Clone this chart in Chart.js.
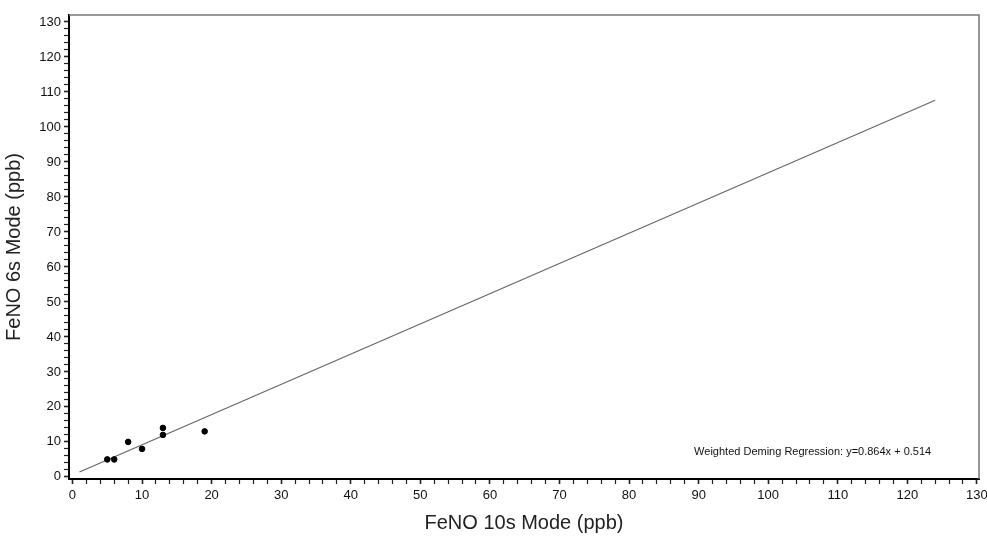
<!DOCTYPE html>
<html>
<head>
<meta charset="utf-8">
<script src="https://cdn.jsdelivr.net/npm/chart.js@4/dist/chart.umd.min.js"></script>
<style>
  html, body { margin: 0; padding: 0; background: #fff; }
  #wrap { width: 987px; height: 539px; }
</style>
</head>
<body>
<div id="wrap"><canvas id="chart"></canvas></div>
<script>
// measured points (10s mode vs 6s mode)
const mode10s = [5, 6, 8, 10, 13, 13, 19];
const mode6s = [5, 5, 10, 8, 14, 12, 13];

// regression line ends
const fitX = [1, 124];
const fitY = [1.38, 107.65];

const regressionLabel = "Weighted Deming Regression: y=0.864x + 0.514";
const xTitle = "FeNO 10s Mode (ppb)";
const yTitle = "FeNO 6s Mode (ppb)";

// major tick values shown on both axes
const tickValues = [0, 10, 20, 30, 40, 50, 60, 70, 80, 90, 100, 110, 120, 130];

function everyTwo(scale) {
  let ticks = [];
  for (let v = 0; v <= 130; v += 2) ticks.push({ value: v });
  scale.ticks = ticks;
}

const boxPlugin = {
  id: "box",
  afterDraw(chart) {
    const ctx = chart.ctx;
    const a = chart.chartArea;
    ctx.save();
    ctx.strokeStyle = "#777";
    ctx.lineWidth = 1.5;
    ctx.beginPath();
    ctx.moveTo(a.left, a.top);
    ctx.lineTo(a.right, a.top);
    ctx.lineTo(a.right, a.bottom);
    ctx.stroke();
    // regression text
    const x = chart.scales.x.getPixelForValue(124);
    const y = chart.scales.y.getPixelForValue(7);
    ctx.fillStyle = "#111";
    ctx.font = "11px Arial, 'Liberation Sans', sans-serif";
    ctx.textAlign = "right";
    ctx.textBaseline = "middle";
    ctx.fillText(regressionLabel, x - 4, y);
    ctx.restore();
  }
};

new Chart(document.getElementById("chart"), {
  type: "scatter",
  data: {
    datasets: [
      {
        label: "data",
        data: mode10s.map((v, i) => ({ x: v, y: mode6s[i] })),
        backgroundColor: "#000",
        borderColor: "#000",
        pointRadius: 2.8,
        order: 1
      },
      {
        label: "fit",
        type: "line",
        data: fitX.map((v, i) => ({ x: v, y: fitY[i] })),
        borderColor: "#666",
        borderWidth: 1.2,
        pointRadius: 0,
        fill: false,
        order: 2
      }
    ]
  },
  options: {
    responsive: true,
    maintainAspectRatio: false,
    animation: false,
    layout: { padding: { top: 15, right: 8, left: 0, bottom: 0 } },
    plugins: {
      legend: { display: false },
      tooltip: { enabled: false }
    },
    scales: {
      x: {
        type: "linear",
        min: -0.5,
        max: 130.3,
        afterBuildTicks: everyTwo,
        afterFit: (s) => { s.height = 60; s.paddingRight = 0; s.paddingLeft = 0; },
        border: { display: true, color: "#000", width: 2 },
        grid: {
          drawOnChartArea: false,
          drawTicks: true,
          tickLength: 5,
          tickColor: "#222",
          tickWidth: (c) => (tickValues.includes(c.tick.value) ? 1.6 : 1.2)
        },
        ticks: {
          autoSkip: false,
          maxRotation: 0,
          padding: 4,
          color: "#111",
          font: { family: "Arial, 'Liberation Sans', sans-serif", size: 13 },
          callback: (v) => (tickValues.includes(v) ? String(v) : "")
        },
        title: {
          display: true,
          text: xTitle,
          color: "#222",
          font: { family: "Arial, 'Liberation Sans', sans-serif", size: 20 },
          padding: { top: 8 }
        }
      },
      y: {
        type: "linear",
        min: -0.6,
        max: 132,
        afterBuildTicks: everyTwo,
        afterFit: (s) => { s.width = 69; },
        border: { display: true, color: "#000", width: 2 },
        grid: {
          drawOnChartArea: false,
          drawTicks: true,
          tickLength: 5,
          tickColor: "#222",
          tickWidth: (c) => (tickValues.includes(c.tick.value) ? 1.6 : 1.2)
        },
        ticks: {
          autoSkip: false,
          padding: 3,
          color: "#111",
          font: { family: "Arial, 'Liberation Sans', sans-serif", size: 13 },
          callback: (v) => (tickValues.includes(v) ? String(v) : "")
        },
        title: {
          display: true,
          text: yTitle,
          color: "#222",
          font: { family: "Arial, 'Liberation Sans', sans-serif", size: 20 },
          padding: { top: 2, bottom: 2 }
        }
      }
    }
  },
  plugins: [boxPlugin]
});
</script>
</body>
</html>
